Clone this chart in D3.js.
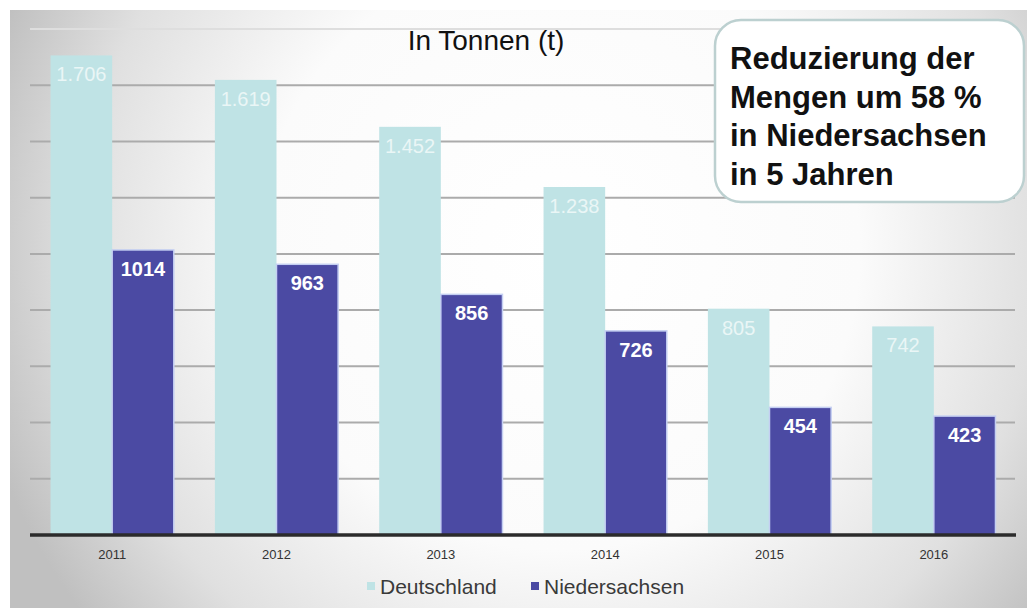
<!DOCTYPE html>
<html>
<head>
<meta charset="utf-8">
<script src="https://cdn.jsdelivr.net/npm/d3@7"></script>
<style>
  html, body { margin: 0; padding: 0; background: #ffffff; }
  svg { display: block; font-family: "Liberation Sans", Arial, Helvetica, sans-serif; }
</style>
</head>
<body>
<svg id="chart" width="1027" height="608"></svg>
<script>
// Jahre und Mengen in Tonnen
const years = ["2011", "2012", "2013", "2014", "2015", "2016"];
const seriesNames = ["Deutschland", "Niedersachsen"];
const deutschland = [1706, 1619, 1452, 1238, 805, 742];
const niedersachsen = [1014, 963, 856, 726, 454, 423];
const gridValues = [200, 400, 600, 800, 1000, 1200, 1400, 1600, 1800];
const titleText = "In Tonnen (t)";
const noteLines = ["Reduzierung der", "Mengen um 58 %", "in Niedersachsen", "in 5 Jahren"];

const colors = { Deutschland: "#bfe3e5", Niedersachsen: "#4b4aa3" };

const rows = years.map((y, i) => ({
  year: y,
  values: [
    { key: "Deutschland", value: deutschland[i] },
    { key: "Niedersachsen", value: niedersachsen[i] }
  ]
}));

const svg = d3.select("#chart");
const W = 1027, H = 608;

// Hintergrund mit radialem Verlauf
const defs = svg.append("defs");
const grad = defs.append("radialGradient")
  .attr("id", "bg")
  .attr("gradientUnits", "userSpaceOnUse")
  .attr("cx", 560).attr("cy", 250).attr("r", 600);
grad.append("stop").attr("offset", "0").attr("stop-color", "#ffffff");
grad.append("stop").attr("offset", "0.5").attr("stop-color", "#fbfbfb");
grad.append("stop").attr("offset", "0.8").attr("stop-color", "#e0e0e0");
grad.append("stop").attr("offset", "1").attr("stop-color", "#c0c0c0");

svg.append("rect")
  .attr("x", 10).attr("y", 10)
  .attr("width", W - 10).attr("height", H - 10)
  .attr("fill", "url(#bg)");

// Skalen
const x0 = d3.scaleBand()
  .domain(years)
  .range([30, 1016])
  .paddingInner(0.25)
  .paddingOuter(0.125);

const x1 = d3.scaleBand()
  .domain(seriesNames)
  .range([0, x0.bandwidth()])
  .padding(0);

const y = d3.scaleLinear()
  .domain([0, 1800])
  .range([535, 29]);

// Gitterlinien
svg.append("g")
  .selectAll("line")
  .data(gridValues)
  .join("line")
  .attr("x1", 30).attr("x2", 1015)
  .attr("y1", d => y(d)).attr("y2", d => y(d))
  .attr("stroke", d => d === 1800 ? "#dedede" : "#ababab")
  .attr("stroke-width", 2);

// Balken
const groups = svg.append("g")
  .selectAll("g")
  .data(rows)
  .join("g")
  .attr("transform", d => `translate(${x0(d.year)},0)`);

groups.selectAll("rect")
  .data(d => d.values)
  .join("rect")
  .attr("x", d => x1(d.key))
  .attr("y", d => y(d.value))
  .attr("width", x1.bandwidth())
  .attr("height", d => y(0) - y(d.value))
  .attr("fill", d => colors[d.key])
  .attr("stroke", d => d.key === "Niedersachsen" ? "#c4cff2" : "none")
  .attr("stroke-width", 1.5);

// Wertbeschriftungen
const de = d3.formatLocale({ decimal: ",", thousands: ".", grouping: [3], currency: ["", " €"] });
const fmtDE = de.format(",d");
const fmtNI = d3.format("d");

groups.selectAll("text.val")
  .data(d => d.values)
  .join("text")
  .attr("class", "val")
  .attr("x", d => x1(d.key) + x1.bandwidth() / 2)
  .attr("y", d => y(d.value) + 26)
  .attr("text-anchor", "middle")
  .attr("font-size", 20)
  .attr("font-weight", d => d.key === "Niedersachsen" ? "bold" : "normal")
  .attr("fill", d => d.key === "Niedersachsen" ? "#ffffff" : "#eaf6f6")
  .text(d => d.key === "Niedersachsen" ? fmtNI(d.value) : fmtDE(d.value));

// x-Achse
const xAxis = svg.append("g")
  .attr("transform", `translate(0,${y(0)})`)
  .call(d3.axisBottom(x0).tickSize(0).tickPadding(15));
xAxis.select(".domain")
  .attr("d", `M30,0H1016`)
  .attr("stroke", "#2b2b2b")
  .attr("stroke-width", 3.5);
xAxis.selectAll("text")
  .attr("font-size", 13)
  .attr("fill", "#333333")
  .attr("font-family", "Liberation Sans, Arial, sans-serif");

// Titel
svg.append("text")
  .attr("x", 486).attr("y", 50)
  .attr("text-anchor", "middle")
  .attr("font-size", 28)
  .attr("fill", "#111111")
  .text(titleText);

// Hinweis-Box
svg.append("rect")
  .attr("x", 715).attr("y", 20)
  .attr("width", 309).attr("height", 182)
  .attr("rx", 26).attr("ry", 26)
  .attr("fill", "#ffffff")
  .attr("stroke", "#bcd0d0")
  .attr("stroke-width", 2.5);

svg.append("text")
  .attr("font-size", 31)
  .attr("font-weight", "bold")
  .attr("fill", "#111111")
  .selectAll("tspan")
  .data(noteLines)
  .join("tspan")
  .attr("x", 730)
  .attr("y", (d, i) => 69 + i * 38.5)
  .text(d => d);

// Legende
const legendItems = [
  { key: "Deutschland", x: 367 },
  { key: "Niedersachsen", x: 531 }
];
const legend = svg.append("g")
  .selectAll("g")
  .data(legendItems)
  .join("g")
  .attr("transform", d => `translate(${d.x},0)`);
legend.append("rect")
  .attr("x", 0).attr("y", 582)
  .attr("width", 8).attr("height", 8)
  .attr("fill", d => colors[d.key]);
legend.append("text")
  .attr("x", 13).attr("y", 594)
  .attr("font-size", 21)
  .attr("fill", "#3a3a3a")
  .text(d => d.key);
</script>
</body>
</html>
